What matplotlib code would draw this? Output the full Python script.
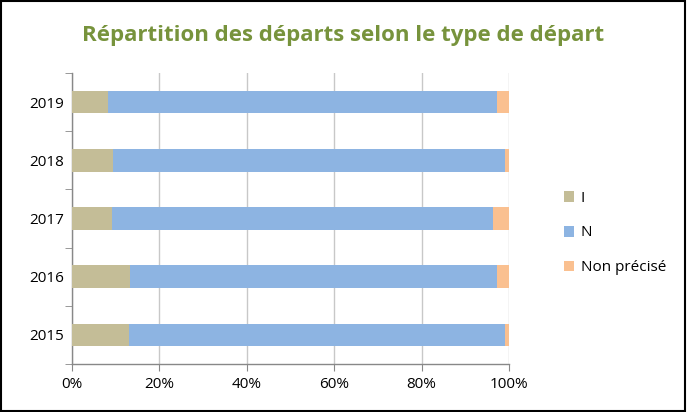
import numpy as np
import matplotlib.pyplot as plt
from matplotlib.patches import Rectangle
from matplotlib.ticker import PercentFormatter

# Données (en %)
annees = ["2015", "2016", "2017", "2018", "2019"]
part_i = [13.0, 13.3, 9.1, 9.3, 8.3]
part_n = [86.0, 83.9, 87.2, 89.8, 89.0]
part_np = [1.0, 2.8, 3.7, 0.9, 2.7]

couleurs = {"I": "#C4BD97", "N": "#8DB4E2", "Non précisé": "#FAC090"}

plt.rcParams['font.family'] = ['Open Sans', 'DejaVu Sans']

fig = plt.figure(figsize=(6.87, 4.12), dpi=100)
ax = fig.add_axes([72 / 687, 1 - 364 / 412, 437 / 687, 291 / 412])

y = np.arange(len(annees))
gauche = np.zeros(len(annees))
for nom, vals in [("I", part_i), ("N", part_n), ("Non précisé", part_np)]:
    ax.barh(y, vals, left=gauche, height=0.39, color=couleurs[nom],
            label=nom, zorder=3)
    gauche = gauche + np.array(vals)

ax.set_xlim(0, 100)
ax.set_ylim(-0.5, len(annees) - 0.5)
ax.set_xticks(np.arange(0, 101, 20))
ax.xaxis.set_major_formatter(PercentFormatter(decimals=0))
ax.set_yticks(y)
ax.set_yticklabels(annees)
ax.set_yticks(np.arange(-0.5, len(annees), 1), minor=True)
ax.tick_params(axis='y', which='major', length=0, labelsize=11, pad=6)
ax.tick_params(axis='y', which='minor', length=5, color='#888888')
ax.tick_params(axis='x', length=5, color='#888888', labelsize=11, pad=4)
ax.grid(axis='x', color='#C8C8C8', linewidth=1, zorder=0)
for s in ['top', 'right']:
    ax.spines[s].set_visible(False)
for s in ['left', 'bottom']:
    ax.spines[s].set_color('#888888')
    ax.spines[s].set_linewidth(1)

ax.legend(loc='center left', bbox_to_anchor=(550 / 687, 1 - 233 / 412),
          bbox_transform=fig.transFigure, frameon=False, fontsize=11,
          handlelength=0.7, handleheight=0.7, handletextpad=0.4,
          labelspacing=1.3)

fig.text(0.5, 1 - 35 / 412, "Répartition des départs selon le type de départ",
         ha='center', va='center', fontsize=16, fontweight='bold',
         color='#77933C')

# Cadre noir autour de la figure
fig.patches.append(Rectangle((0.002, 0.003), 0.995, 0.994,
                             transform=fig.transFigure, fill=False,
                             edgecolor='black', linewidth=1.5))

fig.savefig("out.png", dpi=100)
